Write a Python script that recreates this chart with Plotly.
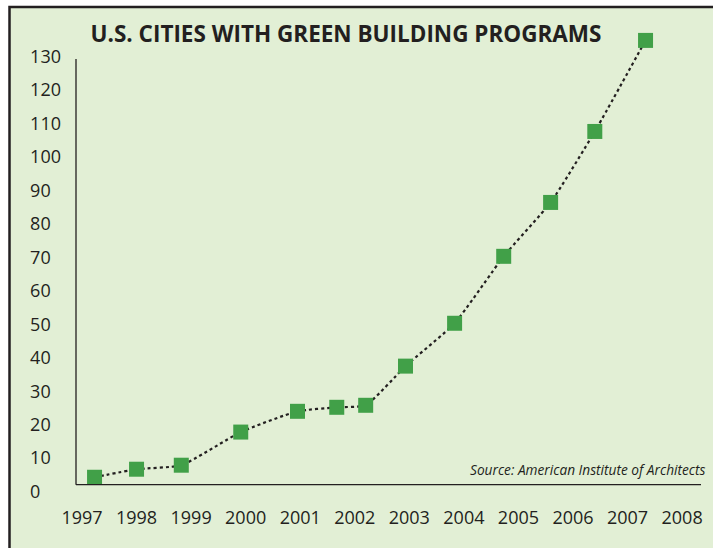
import plotly.graph_objects as go

# cities with green building programs
years = [1997.23, 1998.0, 1998.82, 1999.91, 2000.95, 2001.67, 2002.2,
         2002.93, 2003.83, 2004.73, 2005.59, 2006.4, 2007.33]
cities = [4.3, 6.7, 7.9, 17.8, 24, 25.2, 25.8, 37.5, 50.3, 70.3, 86.4, 107.6, 134.8]

year_ticks = list(range(1997, 2009))
city_ticks = list(range(0, 140, 10))

INK = "#231f20"
BG = "#e2efd5"
GREEN = "#41a048"
FONT = "Open Sans"

W, H = 713, 548
L, R, T, B = 76, 8, 23, 52.65
PW, PH = W - L - R, H - T - B


def px_x(p):
    return (p - L) / PW


def px_y(p):
    return (H - B - p) / PH


# left-align the y tick labels by padding with figure spaces
def pad(v):
    s = str(v)
    return s + "\u2007" * (3 - len(s))


fig = go.Figure()
fig.add_trace(go.Scatter(
    x=years, y=cities,
    mode="lines+markers",
    line=dict(color=INK, width=2.2, dash="dot", shape="spline", smoothing=0.5),
    marker=dict(symbol="square", size=15, color=GREEN, line=dict(width=0)),
    cliponaxis=False,
    hoverinfo="x+y",
))

fig.update_layout(
    width=W, height=H,
    margin=dict(l=L, r=R, t=T, b=B),
    paper_bgcolor="white",
    plot_bgcolor="rgba(0,0,0,0)",
    showlegend=False,
    font=dict(family=FONT, color=INK),
    title=dict(
        text="<b>U.S. CITIES WITH GREEN BUILDING PROGRAMS</b>",
        font=dict(family=FONT, size=22.5, color=INK),
        x=px_x(346), xref="paper", xanchor="center",
        y=1 - 34 / H, yanchor="middle",
    ),
    xaxis=dict(
        range=[1996.89, 2008.42],
        tickvals=year_ticks,
        ticktext=[str(y) for y in year_ticks],
        showgrid=False, zeroline=False, showline=False,
        ticks="", ticklabelstandoff=10,
        tickfont=dict(size=18, color=INK),
    ),
    yaxis=dict(
        range=[-1, 140],
        tickvals=city_ticks,
        ticktext=[pad(v) for v in city_ticks],
        showgrid=False, zeroline=False, showline=False,
        ticks="", ticklabelstandoff=14,
        tickfont=dict(size=18, color=INK),
    ),
    shapes=[
        # panel background and frame
        dict(type="rect", xref="paper", yref="paper", layer="below",
             x0=px_x(9.5), x1=px_x(W + 20), y0=px_y(H + 20), y1=px_y(7),
             fillcolor=BG, line=dict(color=INK, width=2.5)),
        # axis lines
        dict(type="line", xref="paper", yref="paper",
             x0=px_x(76), x1=px_x(76), y0=px_y(485), y1=px_y(59),
             line=dict(color=INK, width=1.3)),
        dict(type="line", xref="paper", yref="paper",
             x0=px_x(76), x1=px_x(701), y0=px_y(485), y1=px_y(485),
             line=dict(color=INK, width=1.3)),
    ],
    annotations=[
        dict(text="Source: American Institute of Architects",
             xref="paper", yref="paper", x=px_x(708), y=px_y(470),
             xanchor="right", yanchor="middle", showarrow=False,
             font=dict(family=FONT, size=13.7, color=INK, style="italic")),
    ],
)

# drop the default body margin so the figure sits at the window origin
fig.write_html(
    "out.html",
    config={"displayModeBar": False},
    post_script="document.body.style.margin='0';",
)
